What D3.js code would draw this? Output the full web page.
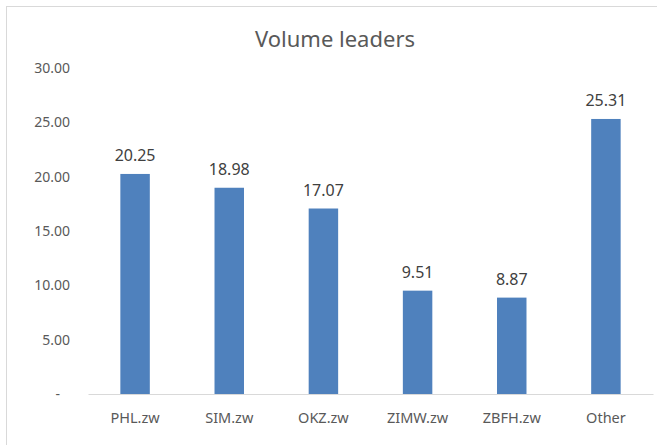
<!DOCTYPE html>
<html>
<head>
<meta charset="utf-8">
<script src="https://cdn.jsdelivr.net/npm/d3@7"></script>
<style>
  body { margin: 0; background: #fff; }
  text { font-family: "Noto Sans", "Open Sans", sans-serif; }
</style>
</head>
<body>
<div id="chart"></div>
<script>
// chart data
const categories = ["PHL.zw", "SIM.zw", "OKZ.zw", "ZIMW.zw", "ZBFH.zw", "Other"];
const values = [20.25, 18.98, 17.07, 9.51, 8.87, 25.31];
const yTicks = [0, 5, 10, 15, 20, 25, 30];

const W = 657, H = 445;
const margin = { top: 68, bottom: 51, left: 88, right: 4 };

const svg = d3.select("#chart")
  .append("svg")
    .attr("width", W)
    .attr("height", H);

// outer chart frame (only top and left edges show)
svg.append("rect")
  .attr("x", 6.5).attr("y", 6.5)
  .attr("width", 700).attr("height", 500)
  .attr("fill", "none")
  .attr("stroke", "#d9d9d9");

const x = d3.scaleBand()
  .domain(categories)
  .range([margin.left, W - margin.right])
  .paddingInner(0.687)
  .paddingOuter(0.3435);

const y = d3.scaleLinear()
  .domain([0, 30])
  .range([H - margin.bottom, margin.top]);

// title
svg.append("text")
  .attr("x", 335).attr("y", 47)
  .attr("text-anchor", "middle")
  .attr("font-size", 22)
  .attr("fill", "#595959")
  .text("Volume leaders");

// y axis labels, no line
const yAxis = svg.append("g")
  .attr("transform", `translate(${margin.left},0)`)
  .call(d3.axisLeft(y).tickValues(yTicks).tickSize(0).tickPadding(18)
    .tickFormat(d => d === 0 ? "-" : d3.format(".2f")(d)));
yAxis.select(".domain").remove();
yAxis.selectAll("text")
  .attr("font-size", 14)
  .attr("fill", "#595959")
  .style("font-family", "'Noto Sans', sans-serif");
yAxis.selectAll("text").filter(d => d === 0).attr("x", -28);

// bars
svg.append("g")
  .selectAll("rect")
  .data(values)
  .join("rect")
    .attr("x", (d, i) => x(categories[i]))
    .attr("y", d => y(d))
    .attr("width", x.bandwidth())
    .attr("height", d => y(0) - y(d))
    .attr("fill", "#4f81bd");

// value labels
svg.append("g")
  .selectAll("text")
  .data(values)
  .join("text")
    .attr("x", (d, i) => x(categories[i]) + x.bandwidth() / 2)
    .attr("y", d => y(d) - 13)
    .attr("text-anchor", "middle")
    .attr("font-size", 16)
    .attr("fill", "#404040")
    .text(d => d3.format(".2f")(d));

// x axis
const xAxis = svg.append("g")
  .attr("transform", `translate(0,${y(0)})`)
  .call(d3.axisBottom(x).tickSize(0).tickPadding(19));
xAxis.select(".domain")
  .attr("stroke", "#d9d9d9");
xAxis.selectAll("text")
  .attr("font-size", 14.5)
  .attr("fill", "#595959")
  .style("font-family", "'Noto Sans', sans-serif");
</script>
</body>
</html>
